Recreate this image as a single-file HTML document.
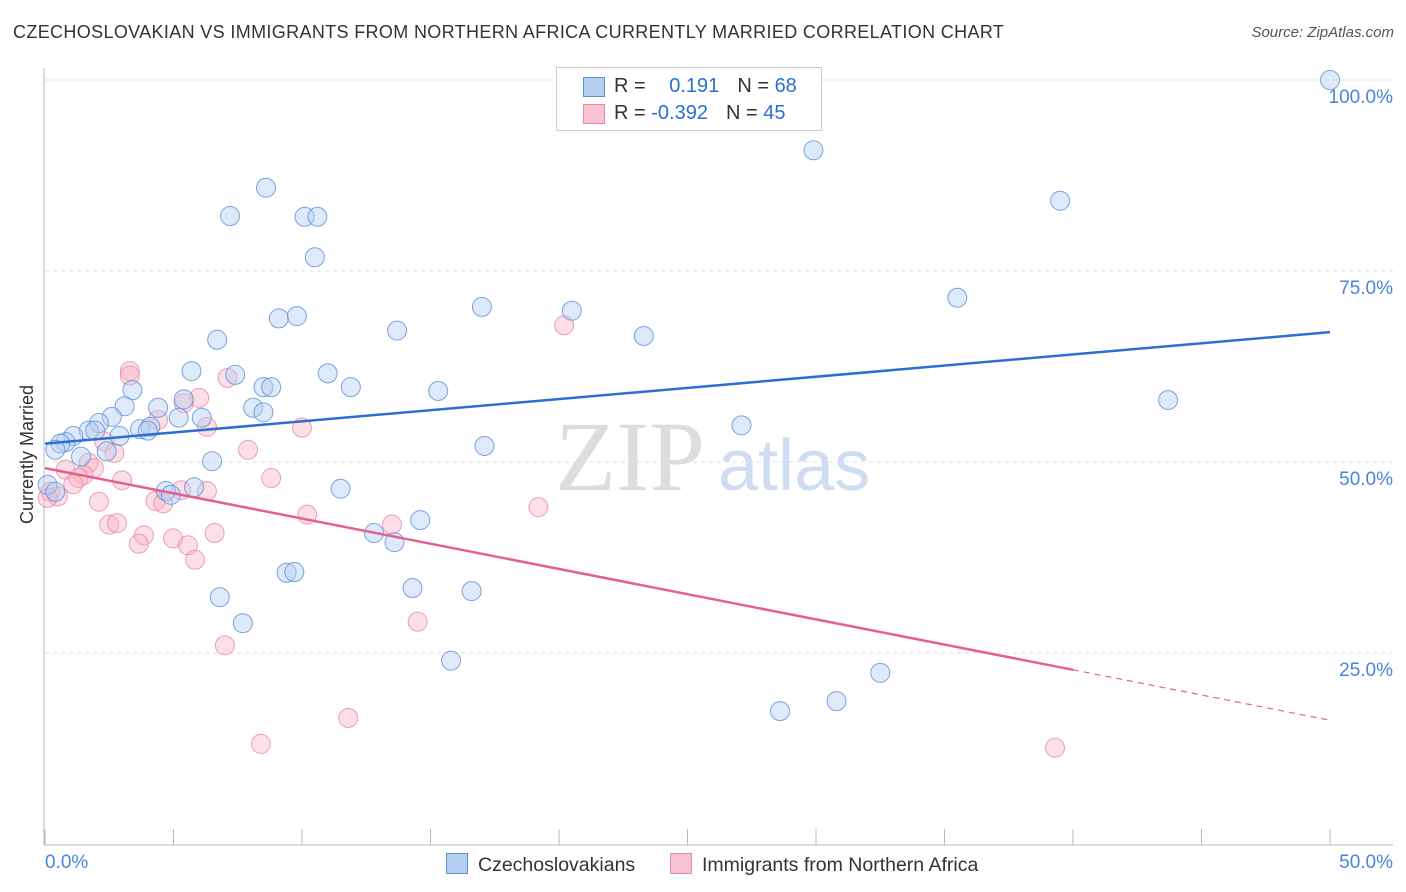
<!DOCTYPE html>
<html><head><meta charset="utf-8">
<style>
body{margin:0;background:#fff;font-family:"Liberation Sans",sans-serif;}
#wrap{position:relative;width:1406px;height:892px;overflow:hidden;}
.t{position:absolute;white-space:nowrap;}
</style></head>
<body><div id="wrap">
<div class="t" style="left:13px;top:22px;font-size:18px;color:#333;letter-spacing:0.35px;">CZECHOSLOVAKIAN VS IMMIGRANTS FROM NORTHERN AFRICA CURRENTLY MARRIED CORRELATION CHART</div>
<div class="t" style="right:12px;top:24px;font-size:15px;color:#555;font-style:italic;">Source: ZipAtlas.com</div>
<svg id="svg" width="1406" height="892" style="position:absolute;left:0;top:0"></svg>
</div>
<script>
const blueX=[50,29.9,39.5,8.6,7.2,10.1,10.6,10.5,35.5,17.0,20.5,9.1,9.8,13.7,23.3,6.7,5.7,7.4,11.0,8.5,8.8,11.9,15.3,3.4,3.1,5.4,4.4,8.1,8.5,43.7,2.6,5.2,6.1,2.1,27.1,3.7,4.1,4.0,1.7,1.95,1.1,2.9,0.8,0.6,0.4,2.4,17.1,1.4,6.5,0.1,0.4,4.7,4.9,5.8,11.5,12.8,13.6,14.6,9.4,9.7,14.3,16.6,6.8,7.7,15.8,32.5,30.8,28.6];
const blueY=[100,90.8,84.2,85.9,82.2,82.1,82.1,76.8,71.5,70.3,69.8,68.8,69.1,67.2,66.5,66.0,61.9,61.4,61.6,59.8,59.8,59.8,59.3,59.4,57.3,58.2,57.1,57.1,56.5,58.1,55.9,55.8,55.8,55.1,54.8,54.3,54.6,54.1,54.1,54.1,53.4,53.4,52.6,52.4,51.6,51.4,52.1,50.7,50.1,47.0,46.1,46.2,45.7,46.7,46.5,40.7,39.5,42.4,35.5,35.6,33.5,33.1,32.3,28.9,24.0,22.4,18.7,17.4];
const pinkX=[20.2,3.3,3.3,7.1,6.0,5.4,4.4,6.3,10.0,2.3,2.7,7.9,1.7,1.9,0.8,1.5,1.3,1.1,3.0,8.8,0.2,0.5,0.1,5.3,6.3,4.3,4.6,2.1,19.2,10.2,13.5,2.5,2.8,6.6,3.85,4.98,3.65,5.56,5.84,14.5,7.0,11.8,8.4,39.3];
const pinkY=[67.9,61.9,61.3,61.0,58.4,57.7,55.5,54.6,54.5,52.7,51.2,51.6,49.9,49.2,49.0,48.3,47.9,47.1,47.6,47.9,46.1,45.5,45.3,46.3,46.2,44.9,44.6,44.8,44.1,43.1,41.8,41.8,42.0,40.7,40.4,40.0,39.3,39.1,37.2,29.1,26.0,16.5,13.1,12.6];
const blueTrend=[52.4,67.0];
const pinkTrend=[49.2,16.2];
const pinkSolidEnd=40;
const yTicks=[100,75,50,25];
const X=v=>45+v*25.7, Y=v=>844-v*7.64;
const svg=document.getElementById('svg');
const NS='http://www.w3.org/2000/svg';
function mk(tag,attrs){const e=document.createElementNS(NS,tag);for(const k in attrs)e.setAttribute(k,attrs[k]);svg.appendChild(e);return e;}
yTicks.forEach(t=>{const l=mk('line',{x1:45,x2:1393,y1:Y(t),y2:Y(t),stroke:'#ddd','stroke-dasharray':'4,4'});


const tx=mk('text',{x:1393,y:Y(t)+23,'text-anchor':'end','font-size':19,fill:'#4a86d8','font-family':'Liberation Sans'});tx.textContent=t.toFixed(1)+'%';

});
const ax=mk('line',{x1:44,x2:44,y1:68,y2:845,stroke:'#bbb'});


const bx=mk('line',{x1:44,x2:1393,y1:845,y2:845,stroke:'#bbb'});


for(let i=0;i<=10;i++){const tk=mk('line',{x1:X(i*5),x2:X(i*5),y1:829,y2:845,stroke:'#bbb'});

}
const wm=mk('text',{x:555,y:490,'font-size':100,fill:'#ddd','font-family':'Liberation Serif'});wm.textContent='ZIP';


const wm2=mk('text',{x:718,y:490,'font-size':72,fill:'#cfdcf2','font-family':'Liberation Sans'});wm2.textContent='atlas';


function pts(xs,ys,fill,stroke,name){xs.forEach((x,i)=>{const c=mk('circle',{cx:X(x),cy:Y(ys[i]),r:9.5,fill:fill,'fill-opacity':0.45,stroke:stroke,'stroke-opacity':0.8,'stroke-width':1});

});}
pts(pinkX,pinkY,'#f7b6c8','#e98aa6','pink-point');
pts(blueX,blueY,'#b5cff2','#5b8fd9','blue-point');
const bl=mk('line',{x1:X(0),y1:Y(blueTrend[0]),x2:X(50),y2:Y(blueTrend[1]),stroke:'#2c6fd1','stroke-width':2.5});


const py=x=>pinkTrend[0]+(pinkTrend[1]-pinkTrend[0])*x/50;
const pl=mk('line',{x1:X(0),y1:Y(py(0)),x2:X(pinkSolidEnd),y2:Y(py(pinkSolidEnd)),stroke:'#e4608e','stroke-width':2.5});


const pd=mk('line',{x1:X(pinkSolidEnd),y1:Y(py(pinkSolidEnd)),x2:X(50),y2:Y(py(50)),stroke:'#e4608e','stroke-width':1.2,'stroke-dasharray':'6,5'});


</script>
<div class="t" style="left:-42px;top:444px;font-size:18px;color:#333;transform:rotate(-90deg);">Currently Married</div>
<div class="t" style="left:45px;top:852px;font-size:19px;color:#4a86d8;">0.0%</div>
<div class="t" style="right:13px;top:852px;font-size:19px;color:#4a86d8;">50.0%</div>
<div style="position:absolute;left:556px;top:67px;width:264px;height:62px;border:1px solid #ccc;background:#fff;font-size:20px;">
<div style="position:absolute;left:26px;top:9px;width:20px;height:18px;background:#b5cff2;border:1px solid #5b8fd9"></div>
<div class="t" style="left:57px;top:7px;color:#333">R = <span style="color:#2c6fd1;margin-left:18px">0.191</span><span style="margin-left:18px">N = </span><span style="color:#2c6fd1">68</span></div>
<div style="position:absolute;left:26px;top:36px;width:20px;height:18px;background:#f7c3d3;border:1px solid #e98aa6"></div>
<div class="t" style="left:57px;top:34px;color:#333">R = <span style="color:#2c6fd1">-0.392</span><span style="margin-left:18px">N = </span><span style="color:#2c6fd1">45</span></div>
</div>
<div style="position:absolute;left:446px;top:853px;font-size:19.5px;color:#333;">
<span style="display:inline-block;width:20px;height:19px;background:#b5cff2;border:1px solid #5b8fd9;vertical-align:-3px;margin-right:10px"></span>Czechoslovakians</div>
<div style="position:absolute;left:670px;top:853px;font-size:19.5px;color:#333;">
<span style="display:inline-block;width:20px;height:19px;background:#f7c3d3;border:1px solid #e98aa6;vertical-align:-3px;margin-right:10px"></span>Immigrants from Northern Africa</div>
</body></html>
